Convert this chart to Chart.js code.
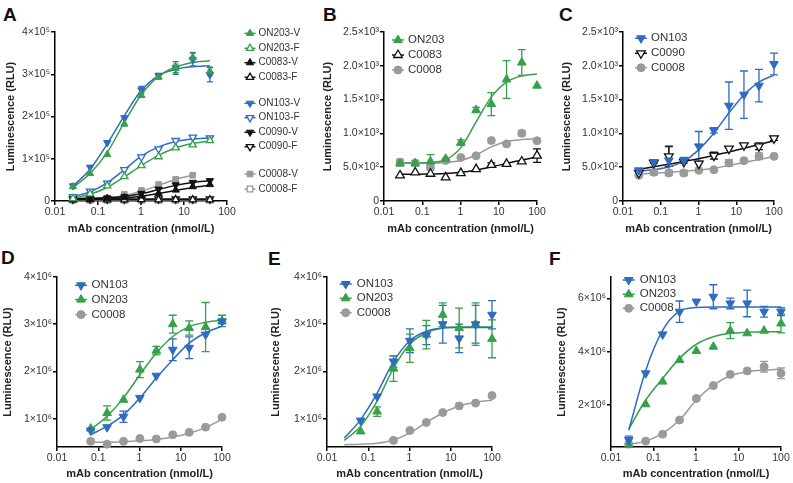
<!DOCTYPE html>
<html>
<head>
<meta charset="utf-8">
<script src="https://cdn.jsdelivr.net/npm/chart.js@4.4.1/dist/chart.umd.min.js"></script>
<style>
body { margin: 0; background: #fff; width: 793px; height: 483px; position: relative; overflow: hidden; font-family: 'Liberation Sans', Arial, sans-serif; }
canvas { position: absolute; }
.panel { position: absolute; font-weight: bold; font-size: 19px; line-height: 20px; color: #111; }
</style>
</head>
<body>
<div class="panel" style="left:3px;top:5px">A</div>
<div class="panel" style="left:323px;top:5px">B</div>
<div class="panel" style="left:559px;top:5px">C</div>
<div class="panel" style="left:1px;top:248px">D</div>
<div class="panel" style="left:268px;top:249px">E</div>
<div class="panel" style="left:549px;top:249px">F</div>
<canvas id="chartA"></canvas>
<canvas id="chartB"></canvas>
<canvas id="chartC"></canvas>
<canvas id="chartD"></canvas>
<canvas id="chartE"></canvas>
<canvas id="chartF"></canvas>
<script>
Chart.defaults.font.family = "'Liberation Sans', Arial, sans-serif";
Chart.defaults.color = '#333';

const GREEN = '#36a04a';
const BLUE = '#2f6bbf';
const GREY = '#9a9a9a';
const BLACK = '#111111';

// dilution series (nmol/L)
const conc = [0.0262, 0.0655, 0.164, 0.41, 1.02, 2.56, 6.4, 16, 40, 100];
const xTicks = [0.01, 0.1, 1, 10, 100];
const xTickLabels = ['0.01', '0.1', '1', '10', '100'];
const xTitle = 'mAb concentration (nmol/L)';
const yTitle = 'Luminescence (RLU)';

// ---- panel A ----
const aTicks = [0, 1e5, 2e5, 3e5, 4e5];
const aTickLabels = ['0', '1×10⁵', '2×10⁵', '3×10⁵', '4×10⁵'];
const aON203V    = [3.4e4, 6.5e4, 1.1e5, 1.82e5, 2.5e5, 2.93e5, 3.14e5, 3.4e5, 3.07e5, null];
const aON203VErr = [0, 0, 0, 0, 0, 4e3, 1e4, 1.2e4, 1e4, null];
const aON203VFit = [3.2e4, 6.5e4, 1.15e5, 1.86e5, 2.52e5, 2.95e5, 3.17e5, 3.28e5, 3.32e5, null];
const aON203F    = [6e3, 1.7e4, 3.6e4, 5.8e4, 8.4e4, 1.05e5, 1.26e5, 1.33e5, 1.43e5, null];
const aON203FFit = [6e3, 1.6e4, 3.2e4, 5.7e4, 8.4e4, 1.08e5, 1.26e5, 1.36e5, 1.42e5, null];
const aC0083V    = [5e3, 5e3, 6e3, 8e3, 1.2e4, 1.8e4, 2.6e4, 3.4e4, 3.9e4, null];
const aC0083VFit = [4e3, 4.5e3, 5.5e3, 7.5e3, 1.15e4, 1.75e4, 2.5e4, 3.2e4, 3.7e4, null];
const aC0083F    = [3e3, 3.5e3, 3e3, 3e3, 3.5e3, 3e3, 3.5e3, 3e3, 3e3, null];
const aC0083FFit = [3.2e3, 3.2e3, 3.2e3, 3.2e3, 3.2e3, 3.2e3, 3.2e3, 3.2e3, 3.2e3, null];
const aON103V    = [3.6e4, 8.0e4, 1.38e5, 1.97e5, 2.63e5, 2.97e5, 3.15e5, 3.35e5, 2.99e5, null];
const aON103VErr = [0, 0, 0, 0, 8e3, 5e3, 1.5e4, 1.5e4, 1.7e4, null];
const aON103VFit = [3.5e4, 7.5e4, 1.35e5, 2.02e5, 2.62e5, 2.97e5, 3.12e5, 3.18e5, 3.2e5, null];
const aON103F    = [1.0e4, 2.3e4, 4.2e4, 7.4e4, 1.04e5, 1.23e5, 1.43e5, 1.51e5, 1.49e5, null];
const aON103FFit = [1.0e4, 2.2e4, 4.3e4, 7.4e4, 1.06e5, 1.28e5, 1.41e5, 1.47e5, 1.49e5, null];
const aC0090V    = [6e3, 7e3, 7e3, 1.0e4, 1.8e4, 2.8e4, 3.8e4, 4.4e4, 4.8e4, null];
const aC0090VFit = [6e3, 6.5e3, 7.5e3, 1.05e4, 1.7e4, 2.7e4, 3.7e4, 4.4e4, 4.8e4, null];
const aC0090F    = [4e3, 5e3, 5e3, 4e3, 5e3, 5e3, 5e3, 5e3, 5e3, null];
const aC0090FFit = [5e3, 5e3, 5e3, 5e3, 5e3, 5e3, 5e3, 5e3, 5e3, null];
const aC0008V    = [6e3, 6e3, 7e3, 1.6e4, 2.5e4, 3.9e4, 5.1e4, 6.1e4, null, null];
const aC0008VFit = [6e3, 6.5e3, 8e3, 1.3e4, 2.3e4, 3.7e4, 5.1e4, 6.1e4, null, null];
const aC0008F    = [2e3, 2e3, 2e3, 2e3, 2e3, 2e3, 2e3, 2e3, 2e3, null];
const aC0008FFit = [2e3, 2e3, 2e3, 2e3, 2e3, 2e3, 2e3, 2e3, 2e3, null];

// ---- panels B and C ----
const bcTicks = [0, 500, 1000, 1500, 2000, 2500];
const bcTickLabels = ['0', '5.0×10²', '1.0×10³', '1.5×10³', '2.0×10³', '2.5×10³'];
const bON203    = [560, 560, 585, 624, 864, 1346, 1434, 1798, 2048, 1706];
const bON203Err = [40, 40, 100, 0, 40, 40, 170, 280, 190, 0];
const bON203Fit = [560, 562, 570, 610, 790, 1170, 1540, 1760, 1850, 1880];
const bC0083    = [378, 422, 403, 349, 413, 471, 535, 550, 585, 671];
const bC0083Err = [0, 0, 0, 0, 0, 0, 30, 0, 0, 100];
const bC0083Fit = [395, 397, 400, 405, 425, 460, 505, 555, 605, 650];
const bC0008    = [570, 560, 496, 600, 643, 668, 894, 845, 1002, 892];
const bC0008Err = [50, 0, 40, 0, 0, 0, 0, 0, 40, 0];
const bC0008Fit = [560, 560, 562, 570, 600, 680, 800, 880, 910, 920];

const cON103    = [454, 577, 600, 601, 808, 1045, 1410, 1573, 1706, 2027];
const cON103Err = [0, 20, 200, 45, 220, 40, 350, 350, 240, 160];
const cON103Fit = [440, 465, 503, 590, 760, 1006, 1302, 1573, 1760, 1860];
const cC0090    = [414, 562, 661, 577, 552, 671, 774, 824, 809, 927];
const cC0090Err = [0, 0, 150, 0, 0, 50, 0, 0, 50, 30];
const cC0090Fit = [470, 505, 545, 585, 625, 675, 725, 780, 835, 890];
const cC0008    = [380, 424, 414, 414, 454, 463, 562, 597, 661, 661];
const cC0008Err = [0, 40, 40, 40, 0, 0, 50, 0, 50, 0];
const cC0008Fit = [400, 412, 425, 440, 458, 485, 525, 570, 615, 660];

// ---- panels D, E, F ----
const deTicks = [1e6, 2e6, 3e6, 4e6];
const deTickLabels = ['1×10⁶', '2×10⁶', '3×10⁶', '4×10⁶'];
const fTicks = [2e6, 4e6, 6e6];
const fTickLabels = ['2×10⁶', '4×10⁶', '6×10⁶'];

const dON103    = [null, 0.75e6, 0.82e6, 1.04e6, 1.44e6, 1.91e6, 2.46e6, 2.5e6, 2.78e6, 3.06e6];
const dON103Err = [0, 0, 0, 0.12e6, 0, 0, 0.23e6, 0.23e6, 0, 0.05e6];
const dON103Fit = [null, 0.66e6, 0.84e6, 1.08e6, 1.44e6, 1.86e6, 2.25e6, 2.6e6, 2.82e6, 2.96e6];
const dON203    = [null, 0.79e6, 1.12e6, 1.4e6, 2.04e6, 2.44e6, 3.0e6, 2.92e6, 2.94e6, 3.07e6];
const dON203Err = [0, 0, 0.15e6, 0, 0.17e6, 0.09e6, 0.19e6, 0.15e6, 0.52e6, 0.12e6];
const dON203Fit = [null, 0.77e6, 1.05e6, 1.44e6, 1.93e6, 2.39e6, 2.74e6, 2.95e6, 3.04e6, 3.09e6];
const dC0008    = [null, 0.52e6, 0.46e6, 0.52e6, 0.58e6, 0.57e6, 0.66e6, 0.71e6, 0.82e6, 1.03e6];
const dC0008Fit = [null, 0.5e6, 0.5e6, 0.51e6, 0.53e6, 0.56e6, 0.61e6, 0.69e6, 0.81e6, 0.99e6];

const eON103    = [null, 0.96e6, 1.47e6, 2.21e6, 2.65e6, 2.77e6, 3.0e6, 2.7e6, 3.0e6, 3.2e6];
const eON103Err = [0, 0, 0, 0.12e6, 0.25e6, 0.2e6, 0.4e6, 0.3e6, 0.4e6, 0.3e6];
const eON103Fit = [0.59e6, 0.98e6, 1.54e6, 2.21e6, 2.65e6, 2.85e6, 2.92e6, 2.93e6, 2.93e6, 2.93e6];
const eON203    = [null, 0.73e6, 1.15e6, 2.06e6, 2.49e6, 2.78e6, 3.2e6, 2.92e6, 3.0e6, 2.69e6];
const eON203Err = [0, 0, 0.1e6, 0.27e6, 0.3e6, 0.3e6, 0.25e6, 0.42e6, 0.45e6, 0.4e6];
const eON203Fit = [0.54e6, 0.84e6, 1.37e6, 2.07e6, 2.58e6, 2.82e6, 2.92e6, 2.94e6, 2.94e6, 2.94e6];
const eC0008    = [null, null, null, 0.54e6, 0.75e6, 0.92e6, 1.13e6, 1.27e6, 1.33e6, 1.49e6];
const eC0008Fit = [0.45e6, 0.46e6, 0.48e6, 0.55e6, 0.7e6, 0.92e6, 1.12e6, 1.27e6, 1.35e6, 1.39e6];

const fON103    = [0.69e6, 3.19e6, 4.65e6, 5.5e6, 5.88e6, 6.06e6, 5.81e6, 5.81e6, 5.5e6, 5.5e6];
const fON103Err = [0.15e6, 0, 0, 0.4e6, 0, 0.45e6, 0.2e6, 0.5e6, 0.2e6, 0.15e6];
const fON103Fit = [1.06e6, 3.3e6, 4.8e6, 5.52e6, 5.66e6, 5.68e6, 5.68e6, 5.68e6, 5.68e6, 5.68e6];
const fON203    = [0.5e6, 2.03e6, 2.88e6, 3.69e6, 4.03e6, 4.19e6, 4.79e6, 4.69e6, 4.79e6, 5.06e6];
const fON203Err = [0, 0, 0, 0, 0, 0, 0.3e6, 0, 0, 0.35e6];
const fON203Fit = [1.1e6, 2.19e6, 3.0e6, 3.75e6, 4.28e6, 4.56e6, 4.69e6, 4.73e6, 4.75e6, 4.75e6];
const fC0008    = [0.54e6, 0.65e6, 0.91e6, 1.44e6, 2.25e6, 2.73e6, 3.15e6, 3.28e6, 3.44e6, 3.19e6];
const fC0008Err = [0, 0, 0, 0, 0, 0, 0, 0, 0.2e6, 0.2e6];
const fC0008Fit = [0.52e6, 0.65e6, 0.94e6, 1.44e6, 2.19e6, 2.75e6, 3.1e6, 3.25e6, 3.31e6, 3.34e6];

// one series = markers (with error bars) + fitted curve
function series(label, color, marker, open, values, fit, errs, r) {
    const pts = [], errOut = [], line = [];
    conc.forEach((x, i) => {
        if (values[i] != null) {
            pts.push({x: x, y: values[i]});
            errOut.push(errs ? (errs[i] || 0) : 0);
        }
        if (fit[i] != null) line.push({x: x, y: fit[i]});
    });
    const style = marker === 'square' ? 'rect' : marker === 'circle' ? 'circle' : 'triangle';
    const fillCol = open ? '#ffffff' : color;
    return [{
        label: label,
        data: pts,
        order: 1,
        clip: false,
        errorBars: errOut,
        pointStyle: style,
        pointRotation: marker === 'down' ? 180 : 0,
        pointRadius: r,
        pointBorderWidth: open ? 1.3 : 1,
        pointBorderColor: color,
        pointBackgroundColor: fillCol,
        borderColor: color,
        backgroundColor: fillCol
    }, {
        label: label + ' fit',
        isCurve: true,
        data: line,
        order: 2,
        showLine: true,
        pointRadius: 0,
        borderColor: color,
        borderWidth: 1.5,
        cubicInterpolationMode: 'monotone',
        fill: false
    }];
}

const errorBarPlugin = {
    id: 'errorBars',
    beforeDatasetsDraw(chart, args, opts) {
        const ctx = chart.ctx;
        const xs = chart.scales.x, ys = chart.scales.y;
        ctx.save();
        chart.data.datasets.forEach(ds => {
            if (!ds.errorBars) return;
            ctx.strokeStyle = ds.borderColor;
            ctx.lineWidth = 1.3;
            ds.data.forEach((p, j) => {
                const e = ds.errorBars[j];
                if (!e) return;
                const px = xs.getPixelForValue(p.x);
                const y1 = ys.getPixelForValue(p.y - e), y2 = ys.getPixelForValue(p.y + e);
                const c = opts.cap;
                ctx.beginPath();
                ctx.moveTo(px, y1); ctx.lineTo(px, y2);
                ctx.moveTo(px - c, y1); ctx.lineTo(px + c, y1);
                ctx.moveTo(px - c, y2); ctx.lineTo(px + c, y2);
                ctx.stroke();
            });
        });
        ctx.restore();
    }
};

const legendPlugin = {
    id: 'sketchLegend',
    afterDraw(chart, args, opts) {
        const ctx = chart.ctx, area = chart.chartArea;
        const items = chart.data.datasets.filter(ds => !ds.isCurve);
        ctx.save();
        ctx.font = opts.fontSize + "px 'Liberation Sans', Arial, sans-serif";
        ctx.textBaseline = 'middle';
        items.forEach((ds, i) => {
            const x = area.left + opts.x, y = area.top + opts.rows[i];
            ctx.strokeStyle = ds.borderColor;
            ctx.lineWidth = 1.5;
            ctx.beginPath();
            ctx.moveTo(x - opts.half, y); ctx.lineTo(x + opts.half, y);
            ctx.stroke();
            ctx.fillStyle = ds.pointBackgroundColor;
            ctx.lineWidth = ds.pointBorderWidth;
            Chart.helpers.drawPoint(ctx, {
                pointStyle: ds.pointStyle, rotation: ds.pointRotation,
                radius: opts.radius || ds.pointRadius, borderWidth: ds.pointBorderWidth
            }, x, y);
            ctx.fillStyle = '#333';
            ctx.fillText(ds.label, x + opts.textDx, y);
        });
        ctx.restore();
    }
};

// box: chart-area edges on the page, plus the room kept around it
function makeChart(id, box, yRange, yTicks, yLabels, datasets, legend, cap) {
    const cv = document.getElementById(id);
    const w = box.R - box.L + box.lpad + box.rpad;
    const h = box.B - box.T + box.tpad + box.bpad;
    cv.width = w; cv.height = h;
    cv.style.left = (box.L - box.lpad) + 'px';
    cv.style.top = (box.T - box.tpad) + 'px';
    return new Chart(cv, {
        type: 'scatter',
        data: {datasets: datasets},
        plugins: [errorBarPlugin, legendPlugin],
        options: {
            responsive: false,
            animation: false,
            events: [],
            layout: {padding: {left: 0, top: box.tpad, right: box.rpad, bottom: 0}},
            plugins: {
                legend: {display: false},
                tooltip: {enabled: false},
                errorBars: {cap: cap},
                sketchLegend: legend
            },
            scales: {
                x: {
                    type: 'logarithmic', min: 0.01, max: 100,
                    afterBuildTicks: s => { s.ticks = xTicks.map(v => ({value: v})); },
                    afterFit: s => { s.height = box.bpad; },
                    ticks: {autoSkip: false, maxRotation: 0, padding: 1, color: '#333',
                            font: {size: 10.5}, callback: (v, i) => xTickLabels[i]},
                    grid: {drawOnChartArea: false, tickLength: 4, color: '#000', lineWidth: 1.5},
                    border: {color: '#000', width: 1.5},
                    title: {display: true, text: xTitle, color: '#222',
                            font: {size: 11, weight: 'bold'}, padding: {top: 0, bottom: 2.4}}
                },
                y: {
                    type: 'linear', min: yRange[0], max: yRange[1],
                    afterBuildTicks: s => { s.ticks = yTicks.map(v => ({value: v})); },
                    afterFit: s => { s.width = box.lpad; },
                    ticks: {autoSkip: false, padding: 1, color: '#333',
                            font: {size: 10.5}, callback: (v, i) => yLabels[i]},
                    grid: {drawOnChartArea: false, tickLength: 4, color: '#000', lineWidth: 1.5},
                    border: {color: '#000', width: 1.5},
                    title: {display: true, text: yTitle, color: '#222',
                            font: {size: 11, weight: 'bold'},
                            padding: {top: box.lpad - box.titleGap - 6.6, bottom: 0}}
                }
            }
        }
    });
}

makeChart('chartA', {L: 55, R: 227, T: 32, B: 201, lpad: 54, rpad: 86, tpad: 12, bpad: 37, titleGap: 44.5},
    [0, 4e5], aTicks, aTickLabels,
    [].concat(
        series('ON203-V', GREEN, 'up', false, aON203V, aON203VFit, aON203VErr, 4.2),
        series('ON203-F', GREEN, 'up', true, aON203F, aON203FFit, null, 4.2),
        series('C0083-V', BLACK, 'up', false, aC0083V, aC0083VFit, null, 4.2),
        series('C0083-F', BLACK, 'up', true, aC0083F, aC0083FFit, null, 4.2),
        series('ON103-V', BLUE, 'down', false, aON103V, aON103VFit, aON103VErr, 4.2),
        series('ON103-F', BLUE, 'down', true, aON103F, aON103FFit, null, 4.2),
        series('C0090-V', BLACK, 'down', false, aC0090V, aC0090VFit, null, 4.2),
        series('C0090-F', BLACK, 'down', true, aC0090F, aC0090FFit, null, 4.2),
        series('C0008-V', GREY, 'square', false, aC0008V, aC0008VFit, null, 4),
        series('C0008-F', GREY, 'square', true, aC0008F, aC0008FFit, null, 4)
    ),
    {x: 195, rows: [1.3, 16.3, 30.7, 45.3, 71.3, 85.7, 100.3, 114.7, 142, 157], half: 5.5, textDx: 8.5, fontSize: 10},
    3);

makeChart('chartB', {L: 384, R: 537, T: 32, B: 201, lpad: 65, rpad: 14, tpad: 12, bpad: 37, titleGap: 56},
    [0, 2500], bcTicks, bcTickLabels,
    [].concat(
        series('ON203', GREEN, 'up', false, bON203, bON203Fit, bON203Err, 5),
        series('C0083', BLACK, 'up', true, bC0083, bC0083Fit, bC0083Err, 5),
        series('C0008', GREY, 'circle', false, bC0008, bC0008Fit, bC0008Err, 4)
    ),
    {x: 14, rows: [8, 23, 38], half: 6, textDx: 10, fontSize: 11.5},
    4);

makeChart('chartC', {L: 623, R: 774, T: 32, B: 201, lpad: 65, rpad: 14, tpad: 12, bpad: 37, titleGap: 56},
    [0, 2500], bcTicks, bcTickLabels,
    [].concat(
        series('ON103', BLUE, 'down', false, cON103, cON103Fit, cON103Err, 5),
        series('C0090', BLACK, 'down', true, cC0090, cC0090Fit, cC0090Err, 5),
        series('C0008', GREY, 'circle', false, cC0008, cC0008Fit, cC0008Err, 4)
    ),
    {x: 18, rows: [6.3, 21.3, 35.7], half: 6, textDx: 10, fontSize: 11.5},
    4);

makeChart('chartD', {L: 57, R: 222, T: 277, B: 447, lpad: 57, rpad: 14, tpad: 12, bpad: 36, titleGap: 49.5},
    [0.4e6, 4e6], deTicks, deTickLabels,
    [].concat(
        series('ON103', BLUE, 'down', false, dON103, dON103Fit, dON103Err, 5),
        series('ON203', GREEN, 'up', false, dON203, dON203Fit, dON203Err, 5),
        series('C0008', GREY, 'circle', false, dC0008, dC0008Fit, null, 4)
    ),
    {x: 24, rows: [8.3, 22.6, 37.6], half: 6, textDx: 10.5, fontSize: 11.5},
    4);

makeChart('chartE', {L: 327, R: 492, T: 277, B: 447, lpad: 60, rpad: 14, tpad: 12, bpad: 36, titleGap: 51},
    [0.4e6, 4e6], deTicks, deTickLabels,
    [].concat(
        series('ON103', BLUE, 'down', false, eON103, eON103Fit, eON103Err, 5),
        series('ON203', GREEN, 'up', false, eON203, eON203Fit, eON203Err, 5),
        series('C0008', GREY, 'circle', false, eC0008, eC0008Fit, null, 4)
    ),
    {x: 18.7, rows: [7, 21.3, 35.7], half: 6, textDx: 11, fontSize: 11.5},
    4);

makeChart('chartF', {L: 611, R: 781, T: 277, B: 447, lpad: 58, rpad: 12, tpad: 12, bpad: 36, titleGap: 49},
    [0.43e6, 6.8e6], fTicks, fTickLabels,
    [].concat(
        series('ON103', BLUE, 'down', false, fON103, fON103Fit, fON103Err, 5),
        series('ON203', GREEN, 'up', false, fON203, fON203Fit, fON203Err, 5),
        series('C0008', GREY, 'circle', false, fC0008, fC0008Fit, fC0008Err, 4)
    ),
    {x: 17.7, rows: [3, 17.3, 31.3], half: 6, textDx: 11, fontSize: 11.5},
    4);
</script>
</body>
</html>
